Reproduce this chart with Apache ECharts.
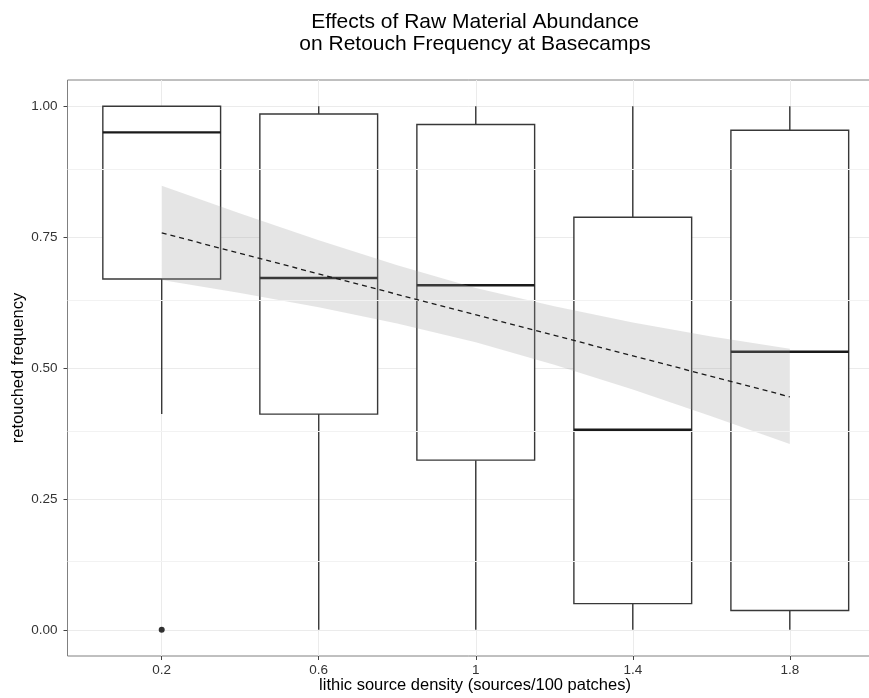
<!DOCTYPE html>
<html>
<head>
<meta charset="utf-8">
<title>Effects of Raw Material Abundance on Retouch Frequency at Basecamps</title>
<script src="https://cdn.jsdelivr.net/npm/echarts@6/dist/echarts.min.js"></script>
<style>
  html, body { margin: 0; padding: 0; background: #ffffff; }
  #chart { width: 869px; height: 698px; }
</style>
</head>
<body>
<div id="chart"></div>
<script>
// Lithic source density groups (sources / 100 patches)
const densities = [0.2, 0.6, 1.0, 1.4, 1.8];
const densityTicks = [0.2, 0.6, 1, 1.4, 1.8];

// Box-and-whisker summaries of retouched frequency per density group
const whiskerLow  = [0.412, 0.000, 0.000, 0.000, 0.000];
const q1          = [0.670, 0.412, 0.324, 0.050, 0.037];
const medians     = [0.950, 0.672, 0.658, 0.382, 0.531];
const q3          = [1.000, 0.985, 0.965, 0.788, 0.954];
const whiskerHigh = [1.000, 1.000, 1.000, 1.000, 1.000];

// Points beyond the whiskers
const outlierX = [0.2];
const outlierY = [0.0];

// Linear fit and its confidence band
const fitX = [0.2, 1.8];
const fitY = [0.758, 0.445];
const bandX    = [0.2,   0.4,   0.6,   0.8,   1.0,   1.2,   1.4,   1.6,   1.8];
const bandHigh = [0.848, 0.795, 0.744, 0.696, 0.653, 0.618, 0.587, 0.560, 0.537];
const bandLow  = [0.668, 0.643, 0.616, 0.585, 0.549, 0.506, 0.459, 0.408, 0.355];

// Value-axis ticks and the finer grid between them
const freqTicks = [0, 0.25, 0.5, 0.75, 1];
const freqMinor = [0.125, 0.375, 0.625, 0.875];

const FONT = '"Liberation Sans", Arial, Helvetica, sans-serif';
const BOX_HALF = 0.15;          // half box width, in density units
const BOX_LINE = '#383838';

const boxData = densities.map((d, i) => [d, whiskerLow[i], q1[i], medians[i], q3[i], whiskerHigh[i]]);
const bandData = bandX.map((x, i) => [x, bandLow[i], bandHigh[i]]);
const fitData = fitX.map((x, i) => [x, fitY[i]]);
const outlierData = outlierX.map((x, i) => [x, outlierY[i]]);

function renderBox(params, api) {
  const x = api.value(0);
  const lo = api.value(1), a = api.value(2), m = api.value(3), b = api.value(4), hi = api.value(5);
  const pTop = api.coord([x, b]);
  const pBot = api.coord([x, a]);
  const pL = api.coord([x - BOX_HALF, b]);
  const pR = api.coord([x + BOX_HALF, a]);
  const pMed = api.coord([x, m]);
  const pHi = api.coord([x, hi]);
  const pLo = api.coord([x, lo]);
  const cx = pTop[0];
  const children = [];
  if (hi > b) {
    children.push({ type: 'line', shape: { x1: cx, y1: pHi[1], x2: cx, y2: pTop[1] },
      style: { stroke: BOX_LINE, lineWidth: 1.4 } });
  }
  if (lo < a) {
    children.push({ type: 'line', shape: { x1: cx, y1: pBot[1], x2: cx, y2: pLo[1] },
      style: { stroke: BOX_LINE, lineWidth: 1.4 } });
  }
  children.push({ type: 'rect',
    shape: { x: pL[0], y: pTop[1], width: pR[0] - pL[0], height: pBot[1] - pTop[1] },
    style: { fill: '#ffffff', stroke: BOX_LINE, lineWidth: 1.4 } });
  children.push({ type: 'line', shape: { x1: pL[0], y1: pMed[1], x2: pR[0], y2: pMed[1] },
    style: { stroke: '#1a1a1a', lineWidth: 2.4 } });
  return { type: 'group', children };
}

function renderBand(params, api) {
  if (params.dataIndex !== 0) return null;
  const pts = [];
  for (let i = 0; i < bandX.length; i++) pts.push(api.coord([bandX[i], bandHigh[i]]));
  for (let i = bandX.length - 1; i >= 0; i--) pts.push(api.coord([bandX[i], bandLow[i]]));
  return { type: 'polygon', shape: { points: pts },
    style: { fill: 'rgba(153,153,153,0.25)', stroke: null } };
}

const chart = echarts.init(document.getElementById('chart'), null, { renderer: 'canvas' });

chart.setOption({
  backgroundColor: '#ffffff',
  animation: false,
  textStyle: { fontFamily: FONT },
  grid: {
    // the panel runs on past the right edge of the canvas
    left: 67.5, top: 80, right: -15, height: 576,
    outerBoundsMode: 'none', containLabel: false,
    show: true, borderColor: '#808080', borderWidth: 1, backgroundColor: 'transparent'
  },
  xAxis: {
    type: 'value', min: -0.04, max: 2.04,
    axisLine: { show: false, onZero: false },
    axisTick: { show: true, customValues: densityTicks, length: 4, inside: false,
      lineStyle: { color: '#444444', width: 1 } },
    axisLabel: { customValues: densityTicks, color: '#333333', fontSize: 13.5, margin: 7,
      fontFamily: FONT },
    splitLine: { show: true, lineStyle: { color: '#ebebeb', width: 1 } }
  },
  yAxis: {
    type: 'value', min: -0.05, max: 1.05,
    axisLine: { show: false, onZero: false },
    axisTick: { show: true, customValues: freqTicks, length: 4,
      lineStyle: { color: '#444444', width: 1 } },
    axisLabel: { customValues: freqTicks, color: '#333333', fontSize: 13.5, margin: 10,
      fontFamily: FONT, formatter: v => v.toFixed(2) },
    splitLine: { show: true, lineStyle: { color: '#ebebeb', width: 1 } }
  },
  graphic: [
    { type: 'text', x: 475, y: 22.5, silent: true,
      style: { text: 'Effects of Raw Material Abundance', fontSize: 21, fontFamily: FONT,
        fill: '#000000', align: 'center', verticalAlign: 'middle' } },
    { type: 'text', x: 475, y: 44.5, silent: true,
      style: { text: 'on Retouch Frequency at Basecamps', fontSize: 21, fontFamily: FONT,
        fill: '#000000', align: 'center', verticalAlign: 'middle' } },
    { type: 'text', x: 475, y: 685, silent: true,
      style: { text: 'lithic source density (sources/100 patches)', fontSize: 16.5, fontFamily: FONT,
        fill: '#000000', align: 'center', verticalAlign: 'middle' } },
    { type: 'text', x: 18, y: 368, rotation: Math.PI / 2, silent: true,
      style: { text: 'retouched frequency', fontSize: 16.5, fontFamily: FONT,
        fill: '#000000', align: 'center', verticalAlign: 'middle' } }
  ],
  series: [
    {
      // finer horizontal grid lines between labelled ticks
      type: 'line', data: [], z: 1, silent: true,
      markLine: {
        silent: true, symbol: 'none', label: { show: false },
        lineStyle: { color: '#f2f2f2', width: 1, type: 'solid' },
        data: freqMinor.map(v => ({ yAxis: v }))
      }
    },
    {
      type: 'custom', name: 'boxes', z: 3,
      renderItem: renderBox,
      encode: { x: 0, y: [1, 2, 3, 4, 5] },
      data: boxData
    },
    {
      type: 'custom', name: 'band', z: 4,
      renderItem: renderBand,
      encode: { x: 0, y: [1, 2] },
      data: bandData
    },
    {
      type: 'line', name: 'fit', z: 5,
      data: fitData, symbol: 'none',
      lineStyle: { color: '#1a1a1a', width: 1.3, type: [5, 4] }
    },
    {
      type: 'scatter', name: 'outliers', z: 6,
      data: outlierData, symbolSize: 6,
      itemStyle: { color: '#000000' }
    }
  ]
});
</script>
</body>
</html>
